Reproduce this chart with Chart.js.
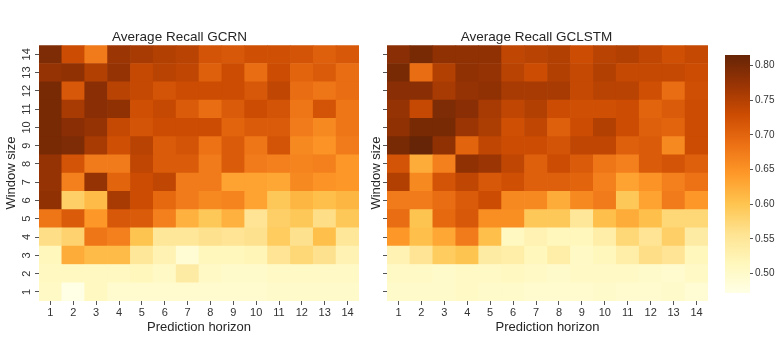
<!DOCTYPE html>
<html>
<head>
<meta charset="utf-8">
<script src="https://cdn.jsdelivr.net/npm/chart.js@4"></script>
<style>
  body { margin: 0; background: #fff; width: 779px; height: 338px; position: relative; overflow: hidden; }
  .box { position: absolute; top: 0; height: 338px; }
</style>
</head>
<body>
<div class="box" style="left:0;width:365px"><canvas id="gcrn"></canvas></div>
<div class="box" style="left:365px;width:347px"><canvas id="gclstm"></canvas></div>
<div class="box" style="left:712px;width:67px"><canvas id="cbar"></canvas></div>

<script>
// prediction horizons (x) and window sizes (y)
const horizonLabels = ["1","2","3","4","5","6","7","8","9","10","11","12","13","14"];
const windowLabels  = ["1","2","3","4","5","6","7","8","9","10","11","12","13","14"];
const colorbarTicks = [0.50, 0.55, 0.60, 0.65, 0.70, 0.75, 0.80];

// rows listed top to bottom: window 14 first, window 1 last
const gcrnRecall = [
  [0.795,0.730,0.675,0.770,0.760,0.750,0.745,0.720,0.715,0.725,0.725,0.720,0.705,0.715],
  [0.775,0.780,0.750,0.775,0.735,0.745,0.740,0.705,0.730,0.690,0.730,0.700,0.710,0.690],
  [0.800,0.715,0.785,0.745,0.735,0.720,0.730,0.730,0.730,0.715,0.740,0.690,0.680,0.690],
  [0.800,0.760,0.785,0.780,0.725,0.735,0.710,0.690,0.710,0.730,0.720,0.680,0.720,0.680],
  [0.800,0.785,0.775,0.735,0.720,0.730,0.730,0.730,0.700,0.710,0.710,0.675,0.660,0.680],
  [0.800,0.795,0.760,0.725,0.745,0.710,0.720,0.685,0.710,0.680,0.720,0.660,0.650,0.675],
  [0.775,0.720,0.675,0.675,0.740,0.710,0.710,0.675,0.710,0.675,0.670,0.665,0.670,0.645],
  [0.775,0.670,0.775,0.700,0.730,0.740,0.675,0.675,0.635,0.635,0.630,0.660,0.650,0.645],
  [0.780,0.585,0.610,0.760,0.730,0.695,0.675,0.660,0.665,0.635,0.595,0.615,0.605,0.615],
  [0.680,0.710,0.645,0.715,0.710,0.670,0.620,0.595,0.620,0.555,0.585,0.595,0.565,0.595],
  [0.565,0.580,0.680,0.670,0.600,0.550,0.550,0.560,0.555,0.560,0.590,0.560,0.605,0.550],
  [0.515,0.625,0.610,0.610,0.550,0.525,0.490,0.515,0.515,0.520,0.555,0.575,0.560,0.525],
  [0.510,0.510,0.510,0.510,0.515,0.505,0.540,0.505,0.500,0.500,0.505,0.505,0.505,0.505],
  [0.505,0.472,0.510,0.495,0.495,0.495,0.495,0.495,0.495,0.495,0.500,0.500,0.500,0.500]
];

const gclstmRecall = [
  [0.785,0.800,0.780,0.780,0.780,0.740,0.745,0.750,0.730,0.745,0.750,0.740,0.725,0.735],
  [0.800,0.690,0.750,0.780,0.775,0.745,0.730,0.750,0.735,0.750,0.735,0.735,0.735,0.730],
  [0.785,0.785,0.760,0.775,0.780,0.760,0.760,0.760,0.735,0.745,0.745,0.725,0.690,0.725],
  [0.775,0.735,0.795,0.785,0.760,0.740,0.750,0.730,0.725,0.725,0.730,0.700,0.710,0.730],
  [0.780,0.800,0.800,0.770,0.755,0.725,0.740,0.705,0.730,0.750,0.730,0.705,0.700,0.730],
  [0.800,0.815,0.780,0.700,0.740,0.730,0.730,0.720,0.740,0.740,0.705,0.710,0.660,0.730],
  [0.720,0.625,0.670,0.780,0.770,0.740,0.705,0.730,0.710,0.680,0.670,0.710,0.720,0.705],
  [0.750,0.660,0.720,0.740,0.715,0.725,0.705,0.705,0.700,0.670,0.635,0.650,0.670,0.685],
  [0.675,0.675,0.690,0.710,0.730,0.660,0.660,0.625,0.660,0.675,0.595,0.635,0.675,0.645],
  [0.690,0.600,0.695,0.715,0.655,0.655,0.595,0.595,0.550,0.605,0.625,0.605,0.575,0.575],
  [0.645,0.605,0.630,0.675,0.605,0.510,0.525,0.515,0.515,0.535,0.575,0.555,0.585,0.540],
  [0.525,0.555,0.590,0.600,0.540,0.535,0.515,0.535,0.505,0.515,0.535,0.565,0.555,0.515],
  [0.505,0.505,0.500,0.505,0.505,0.510,0.505,0.500,0.505,0.505,0.505,0.500,0.495,0.505],
  [0.500,0.500,0.500,0.505,0.500,0.500,0.495,0.495,0.495,0.500,0.495,0.495,0.500,0.490]
];

// shared colour range, like seaborn with one colorbar
const allValues = gcrnRecall.flat().concat(gclstmRecall.flat());
const vmin = Math.min(...allValues);
const vmax = Math.max(...allValues);

// YlOrBr
const cmapStops = ["#ffffe5","#fff7bc","#fee391","#fec44f","#fe9929","#ec7014","#cc4c02","#993404","#662506"];
const cmapRgb = cmapStops.map(h => [1, 3, 5].map(i => parseInt(h.slice(i, i + 2), 16)));

function colorFor(v) {
  let t = (v - vmin) / (vmax - vmin);
  t = Math.max(0, Math.min(1, t)) * (cmapRgb.length - 1);
  const i = Math.min(Math.floor(t), cmapRgb.length - 2);
  const f = t - i;
  const c = cmapRgb[i].map((a, k) => Math.round(a + (cmapRgb[i + 1][k] - a) * f));
  return `rgb(${c[0]},${c[1]},${c[2]})`;
}

const textColor = "#262626";
const tickColor = "#555";
Chart.defaults.font.family = "'Liberation Sans', Arial, sans-serif";
Chart.defaults.animation = false;

function makeHeatmap(id, title, rows, showYLabels, yWidth, padRight) {
  // one stacked dataset per window size, bottom (window 1) first
  const datasets = rows.slice().reverse().map((row, w) => ({
    label: "Window " + windowLabels[w],
    data: row.map(() => 1),
    backgroundColor: row.map(colorFor),
    borderWidth: 0,
    barPercentage: 1,
    categoryPercentage: 1
  }));

  return new Chart(document.getElementById(id), {
    type: "bar",
    data: { labels: horizonLabels, datasets },
    options: {
      responsive: true,
      maintainAspectRatio: false,
      layout: { padding: { top: 29, right: padRight, bottom: 0, left: 0 } },
      plugins: {
        legend: { display: false },
        tooltip: { enabled: false },
        title: {
          display: true, text: title, color: textColor,
          font: { size: 13.5, weight: "normal" }, padding: 0
        }
      },
      scales: {
        x: {
          stacked: true,
          grid: { drawOnChartArea: false, offset: false, tickLength: 4, color: tickColor },
          border: { display: false },
          ticks: { color: "#333", font: { size: 11 }, padding: 1, maxRotation: 0 },
          title: {
            display: true, text: "Prediction horizon", color: textColor,
            font: { size: 13 }, padding: { top: 0, bottom: 3 }
          },
          afterFit: s => { s.height = 37; }
        },
        y: {
          type: "linear", stacked: true, min: 0, max: 14,
          afterBuildTicks: s => { s.ticks = windowLabels.map((_, i) => ({ value: i + 0.5 })); },
          grid: { drawOnChartArea: false, tickLength: 4, color: tickColor },
          border: { display: false },
          ticks: {
            color: "#333", font: { size: 11 }, padding: 2, minRotation: 90, maxRotation: 90,
            crossAlign: "center",
            callback: (v, i) => showYLabels ? windowLabels[i] : ""
          },
          title: {
            display: true, text: "Window size", color: textColor,
            font: { size: 13 }, padding: { top: 4, bottom: 0 }
          },
          afterFit: s => { s.width = yWidth; }
        }
      }
    }
  });
}

makeHeatmap("gcrn", "Average Recall GCRN", gcrnRecall, true, 39, 6);
makeHeatmap("gclstm", "Average Recall GCLSTM", gclstmRecall, false, 22, 4);

// colorbar
function barGradient(chart) {
  const area = chart.chartArea;
  if (!area) return cmapStops[4];
  const g = chart.ctx.createLinearGradient(0, area.bottom, 0, area.top);
  cmapStops.forEach((c, i) => g.addColorStop(i / (cmapStops.length - 1), c));
  return g;
}

new Chart(document.getElementById("cbar"), {
  type: "bar",
  data: {
    labels: [""],
    datasets: [{
      data: [[vmin, vmax]],
      backgroundColor: ctx => barGradient(ctx.chart),
      borderWidth: 0,
      barPercentage: 1,
      categoryPercentage: 1
    }]
  },
  options: {
    responsive: true,
    maintainAspectRatio: false,
    layout: { padding: { top: 55, right: 0, bottom: 45, left: 13 } },
    plugins: { legend: { display: false }, tooltip: { enabled: false } },
    scales: {
      x: { display: false },
      y: {
        position: "right", min: vmin, max: vmax,
        afterBuildTicks: s => { s.ticks = colorbarTicks.map(v => ({ value: v })); },
        grid: { drawOnChartArea: false, tickLength: 3, color: tickColor },
        border: { display: false },
        ticks: { color: "#333", font: { size: 10 }, padding: 2, callback: v => v.toFixed(2) },
        afterFit: s => { s.width = 29; }
      }
    }
  }
});
</script>
</body>
</html>
